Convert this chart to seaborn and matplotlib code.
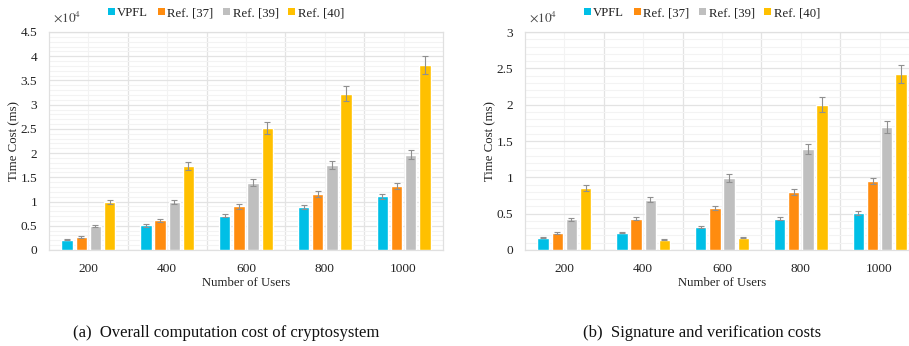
import matplotlib
matplotlib.use("Agg")
import matplotlib.pyplot as plt
from matplotlib.patches import Patch
from matplotlib.ticker import MultipleLocator
from matplotlib.container import BarContainer
import seaborn as sns
import pandas as pd

# ---- data (values in units of 10^4 ms) ----
users = ["200", "400", "600", "800", "1000"]
methods = ["VPFL", "Ref. [37]", "Ref. [39]", "Ref. [40]"]

overall_vpfl = [0.21, 0.51, 0.71, 0.89, 1.11]
overall_ref37 = [0.27, 0.61, 0.90, 1.16, 1.32]
overall_ref39 = [0.49, 0.99, 1.39, 1.75, 1.97]
overall_ref40 = [0.99, 1.73, 2.52, 3.23, 3.82]

sign_vpfl = [0.17, 0.24, 0.32, 0.43, 0.51]
sign_ref37 = [0.23, 0.43, 0.58, 0.80, 0.95]
sign_ref39 = [0.42, 0.69, 0.99, 1.39, 1.69]
sign_ref40 = [0.85, 0.14, 0.17, 2.00, 2.42]

# percentage error bars
err_fraction = 0.05

palette = ["#00BFE6", "#FF8C0F", "#BFBFBF", "#FFC000"]


def long_frame(series):
    rows = []
    for m, vals in zip(methods, series):
        for u, v in zip(users, vals):
            rows.append({"Users": u, "Method": m, "Cost": v})
    return pd.DataFrame(rows)


sns.set_theme(style="white")
plt.rcParams["font.family"] = ["Liberation Serif", "DejaVu Serif"]
plt.rcParams["mathtext.fontset"] = "stix"

W, H = 909, 346
fig = plt.figure(figsize=(W / 100, H / 100), dpi=100)


def fx(px):
    return px / W


def fy(py):
    return 1 - py / H


def draw_panel(left_px, series, ymax, caption):
    ax = fig.add_axes([fx(left_px), fy(250), 394 / W, 218 / H])
    df = long_frame(series)
    sns.barplot(data=df, x="Users", y="Cost", hue="Method", order=users,
                hue_order=methods, palette=palette, width=0.72, gap=0.2,
                errorbar=None, saturation=1, legend=False, ax=ax, zorder=3)
    bar_containers = [c for c in ax.containers if isinstance(c, BarContainer)]
    for container in bar_containers:
        for bar in container:
            h = bar.get_height()
            ax.errorbar(bar.get_x() + bar.get_width() / 2, h,
                        yerr=h * err_fraction, color="#909090", lw=0.8,
                        capsize=2, capthick=0.8, zorder=4)
    ax.set_xlim(-0.5, 4.5)
    ax.set_ylim(0, ymax)
    ax.yaxis.set_major_locator(MultipleLocator(0.5))
    ax.yaxis.set_minor_locator(MultipleLocator(0.1))
    ax.set_xticks(range(len(users)))
    ax.set_xticks([i + 0.5 for i in range(len(users) - 1)], minor=True)
    ax.yaxis.set_major_formatter(lambda v, p: f"{v:g}")

    # Excel-style gridlines
    ax.grid(which="major", axis="y", color="#E3E3E3", lw=0.9, zorder=0)
    ax.grid(which="minor", axis="y", color="#F3F3F3", lw=0.8, zorder=0)
    ax.grid(which="minor", axis="x", color="#E3E3E3", lw=0.9, zorder=0)
    for i in range(len(users)):
        ax.axvline(i, color="#F3F3F3", lw=0.8, zorder=0)
    for s in ax.spines.values():
        s.set_color("#E0E0E0")
        s.set_linewidth(0.9)

    ax.tick_params(which="both", length=0, labelsize=9.6, colors="#222222")
    ax.tick_params(axis="y", pad=8.5)
    ax.tick_params(axis="x", pad=9)
    ax.set_xlabel("Number of Users", fontsize=9.2, color="#222222")
    ax.xaxis.label.set_va("center")
    ax.xaxis.set_label_coords(0.5, -32.5 / 218)
    ax.set_ylabel("Time Cost (ms)", fontsize=9.2, color="#222222")
    ax.yaxis.label.set_va("center")
    ax.yaxis.set_label_coords(-34.5 / 394, 0.5)

    ax.text(4 / 394, 233 / 218, r"$\times10^4$", transform=ax.transAxes,
            fontsize=9.5, color="#444444", ha="left", va="center")

    center_px = left_px + 177
    handles = [Patch(facecolor=c, edgecolor="none") for c in palette]
    fig.legend(handles, methods, loc="center", ncol=4,
               bbox_to_anchor=(fx(center_px), fy(13)), frameon=False,
               fontsize=9.2, handlelength=0.55, handleheight=0.55,
               handletextpad=0.2, columnspacing=0.75, borderaxespad=0,
               labelcolor="#222222")
    fig.text(fx(center_px), fy(337), caption, ha="center", va="baseline",
             fontsize=12, color="#111111")
    return ax


draw_panel(49, [overall_vpfl, overall_ref37, overall_ref39, overall_ref40],
           4.5, "(a)  Overall computation cost of cryptosystem")
draw_panel(525, [sign_vpfl, sign_ref37, sign_ref39, sign_ref40],
           3.0, "(b)  Signature and verification costs")

fig.savefig("out.png", dpi=100)
